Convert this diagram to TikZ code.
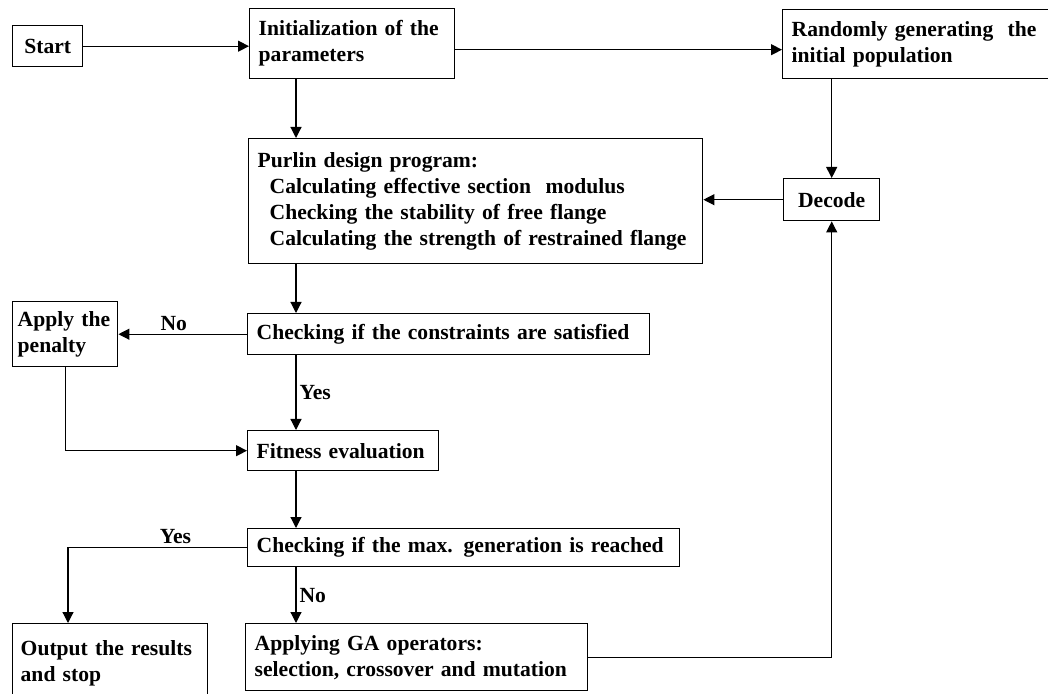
\documentclass[tikz,border=0pt]{standalone}
\usepackage{fontspec}
\setmainfont{Liberation Serif}
\usetikzlibrary{shapes,arrows.meta,positioning,calc}
\tikzset{
    block/.style={
        rectangle,
        draw,
        anchor=north west,
        align=left,
        inner xsep=4.5pt,
        inner ysep=0pt,
        line width=0.7pt,
        font=\bfseries\fontsize{10.8}{13}\selectfont
    },
    line/.style={
        line width=0.6pt,
        -{Triangle[length=5.5pt,width=5.5pt]}
    },
    answer/.style={
        font=\bfseries\fontsize{10.8}{13}\selectfont,
        inner sep=1.5pt
    }
}

\begin{document}
\begin{tikzpicture}[x=0.5pt, y=-0.5pt]
    \clip (0,0) rectangle (1048,694);
    \coordinate (trunk) at (296,0);
    \coordinate (yesdrop) at (68,0);

    \node (start) [block, minimum width=35pt, minimum height=20.5pt, align=center] at (12,25) {Start};
    \node (init) [block, text width=93.5pt, minimum height=35pt] at (249,8) {Initialization of the\\parameters};
    \node (random) [block, text width=140pt, minimum height=34.5pt] at (782,9) {Randomly generating~ the\\initial population};
    \node (decode) [block, minimum width=48pt, minimum height=21pt, align=center] at (783,178) {Decode};
    \node (purlin) [block, text width=218pt, minimum height=62.5pt] at (248,138) {Purlin design program:\\
        \hspace*{6pt}Calculating effective section~ modulus\\
        \hspace*{6pt}Checking the stability of free flange\\
        \hspace*{6pt}Calculating the strength of restrained flange};
    \node (constraints) [block, text width=192pt, minimum height=20.5pt] at (247,313) {Checking if the constraints are satisfied};
    \node (penalty) [block, text width=47.5pt, minimum height=32.5pt, inner xsep=2.5pt] at (12,301) {Apply the\\penalty};
    \node (fitness) [block, text width=86.5pt, minimum height=20pt] at (247,430) {Fitness evaluation};
    \node (maxgen) [block, text width=207pt, minimum height=19pt] at (247,528) {Checking if the max. generation is reached};
    \node (output) [block, text width=89.5pt, minimum height=40pt, inner xsep=4pt] at (12,623) {Output the results\\and stop\\[12pt]};
    \node (ga) [block, text width=162pt, minimum height=33.5pt] at (245,623) {Applying GA operators:\\selection, crossover and mutation};

    \draw [line] (start.east) -- (start.east -| init.west);
    \draw [line] ([yshift=-3pt]init.east) -- ([yshift=-3pt]init.east -| random.west);
    \draw [line] (init.south -| trunk) -- (purlin.north -| trunk);
    \draw [line] (random.south -| decode.north) -- (decode.north);
    \draw [line] (decode.west) -- (decode.west -| purlin.east);
    \draw [line] (purlin.south -| trunk) -- (constraints.north -| trunk);
    \draw [line] (constraints.west) -- node[answer, above, pos=0.57] {No} (constraints.west -| penalty.east);
    \draw [line] (constraints.south -| trunk) -- node[answer, right] {Yes} (fitness.north -| trunk);
    \draw [line] (penalty.south) |- (fitness.west);
    \draw [line] (fitness.south -| trunk) -- (maxgen.north -| trunk);
    \draw [line] (maxgen.west) -| node[answer, above, pos=0.2] {Yes} (output.north -| yesdrop);
    \draw [line] (maxgen.south -| trunk) -- node[answer, right] {No} (ga.north -| trunk);
    \draw [line] (ga.east) -| (decode.south);
\end{tikzpicture}
\end{document}
